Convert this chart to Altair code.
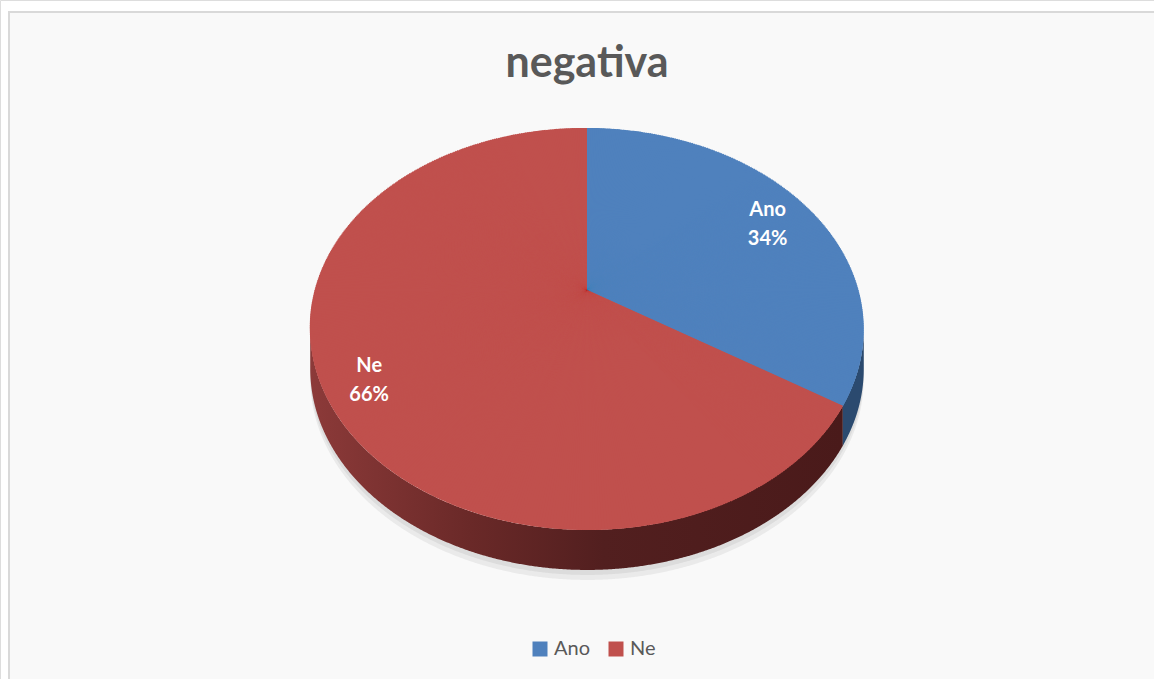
import altair as alt
import pandas as pd

# ---- data ----
categories = ["Ano", "Ne"]
values = [34, 66]
colors = ["#4F81BD", "#C0504D"]
title_text = "negativa"

# ---- styling / geometry of the tilted pie (pixels) ----
FONT = "Lato"
CX, CY = 587, 290          # pie centre (apex of the slices)
A, B, E = 271.5, 193.4, 0.194   # half-width, half-depth, perspective factor
DEPTH = 40                 # thickness of the 3D side wall
N = 720                    # sub-slices per full turn
K = 0.83                   # label radius factor

df = pd.DataFrame({"cat": categories, "value": values})


def px(phi):
    return f"({A}*sin({phi})/(1+{E}*cos({phi})))"


def py(phi):
    return f"(-{B}*cos({phi})/(1+{E}*cos({phi})))"


base = (
    alt.Chart(df)
    .transform_joinaggregate(total="sum(value)")
    .transform_window(cum="sum(value)", frame=[None, 0])
    .transform_calculate(
        f0="(datum.cum - datum.value)/datum.total",
        f1="datum.cum/datum.total",
    )
)

# ---- background frame ----
frame = (
    alt.Chart(pd.DataFrame({"k": [0]}))
    .mark_rect(fill="#f9f9f9", stroke="#d9d9d9", strokeWidth=2)
    .encode(x=alt.value(9), x2=alt.value(1200), y=alt.value(12), y2=alt.value(720))
)

# ---- side wall (visible front part) ----
side_base = (
    base.transform_calculate(
        a=f"max(datum.f0*2*PI, acos(-{E}))",
        b=f"min(datum.f1*2*PI, 2*PI - acos(-{E}))",
    )
    .transform_filter("datum.a < datum.b")
    .transform_calculate(steps="sequence(datum.a, datum.b + 0.004, 0.004)")
    .transform_flatten(["steps"], as_=["pp"])
    .transform_calculate(p="min(datum.pp, datum.b)")
    .transform_calculate(
        sx=f"{CX} + " + px("datum.p"),
        sy=f"{CY} + " + py("datum.p"),
    )
    .transform_calculate(
        sy2=f"datum.sy + {DEPTH}",
        sh1=f"datum.sy + {DEPTH} + 5",
        sh2=f"datum.sy + {DEPTH} + 10",
    )
)

shadow1 = side_base.mark_area(color="#000000", opacity=0.06).encode(
    x=alt.X("sx:Q", scale=None, axis=None),
    y=alt.Y("sy:Q", scale=None, axis=None),
    y2=alt.Y2("sh2"),
)
shadow2 = side_base.mark_area(color="#000000", opacity=0.06).encode(
    x=alt.X("sx:Q", scale=None, axis=None),
    y=alt.Y("sy:Q", scale=None, axis=None),
    y2=alt.Y2("sh1"),
)

red_grad = alt.LinearGradient(
    gradient="linear",
    stops=[
        alt.GradientStop(color="#8c3a39", offset=0),
        alt.GradientStop(color="#6a2928", offset=0.3),
        alt.GradientStop(color="#521f1f", offset=0.55),
        alt.GradientStop(color="#4a1a1a", offset=1),
    ],
    x1=0, x2=1, y1=0, y2=0,
)

side_ne = (
    side_base.transform_filter(f"datum.cat == '{categories[1]}'")
    .mark_area(fill=red_grad)
    .encode(
        x=alt.X("sx:Q", scale=None, axis=None),
        y=alt.Y("sy:Q", scale=None, axis=None),
        y2=alt.Y2("sy2"),
    )
)
side_ano = (
    side_base.transform_filter(f"datum.cat == '{categories[0]}'")
    .mark_area(fill="#2b4a6f")
    .encode(
        x=alt.X("sx:Q", scale=None, axis=None),
        y=alt.Y("sy:Q", scale=None, axis=None),
        y2=alt.Y2("sy2"),
    )
)


def polar_angles(chart, pa, pb):
    """add t0/t1 (screen polar angles) for parametric angles pa..pb"""
    return (
        chart.transform_calculate(
            x0=px(pa), y0=py(pa), x1=px(pb), y1=py(pb),
        )
        .transform_calculate(
            ta="atan2(datum.x0, -datum.y0)",
            tb="atan2(datum.x1, -datum.y1)",
        )
        .transform_calculate(
            t0="datum.ta < 0 ? datum.ta + 2*PI : datum.ta",
            tbw="datum.tb < 0 ? datum.tb + 2*PI : datum.tb",
        )
        .transform_calculate(t1w="datum.tbw < datum.t0 ? datum.tbw + 2*PI : datum.tbw")
    )


color_scale = alt.Scale(domain=categories, range=colors)
legend = alt.Legend(
    title=None,
    orient="none",
    legendX=530,
    legendY=639,
    direction="horizontal",
    symbolType="square",
    symbolSize=225,
    symbolStrokeWidth=0,
    labelFont=FONT,
    labelFontSize=20,
    labelColor="#595959",
    columnPadding=16,
    labelOffset=4,
)

# ---- inner solid core of each slice (fills the centre cleanly) ----
core = polar_angles(base, "2*PI*datum.f0", "2*PI*datum.f1").transform_calculate(
    r=f"{B}/(1+{E})", t1="datum.t1w"
)
core_layer = core.mark_arc(strokeWidth=0).encode(
    theta=alt.Theta("t0:Q", scale=None, stack=False),
    theta2=alt.Theta2("t1"),
    radius=alt.Radius("r:Q", scale=None),
    x=alt.value(CX),
    y=alt.value(CY),
    color=alt.Color("cat:N", scale=color_scale, sort=categories, legend=legend),
)

# ---- top face: many thin arcs following the tilted ellipse ----
top = (
    base.transform_calculate(steps=f"sequence(floor(datum.f0*{N}), ceil(datum.f1*{N}))")
    .transform_flatten(["steps"], as_=["s"])
    .transform_calculate(
        p0=f"2*PI*max(datum.s/{N}, datum.f0)",
        p1=f"2*PI*min((datum.s+1)/{N}, datum.f1)",
    )
    .transform_calculate(
        pm="(datum.p0 + datum.p1)/2",
        last="datum.p1 >= 2*PI*datum.f1 - 1e-9 ? 1 : 0",
    )
)
top = polar_angles(top, "datum.p0", "datum.p1").transform_calculate(
    xm=px("datum.pm"), ym=py("datum.pm"),
).transform_calculate(
    r="sqrt(datum.xm*datum.xm + datum.ym*datum.ym)",
    # overlap neighbouring sub-slices slightly so no seams show
    t1="datum.last == 1 ? datum.t1w : datum.t1w + 0.012",
)

top_face = top.mark_arc(strokeWidth=0).encode(
    theta=alt.Theta("t0:Q", scale=None, stack=False),
    theta2=alt.Theta2("t1"),
    radius=alt.Radius("r:Q", scale=None),
    x=alt.value(CX),
    y=alt.value(CY),
    color=alt.Color("cat:N", scale=color_scale, sort=categories, legend=legend),
)

# ---- labels ----
labels = (
    base.transform_calculate(pm="PI*(datum.f0 + datum.f1)")
    .transform_calculate(
        lx=f"{CX} + {K}*" + px("datum.pm"),
        ly=f"{CY} + {K}*" + py("datum.pm"),
        txt="datum.cat + '\\n' + round(100*datum.value/datum.total) + '%'",
    )
    .mark_text(
        color="white", font=FONT, fontWeight="bold", fontSize=20,
        lineBreak="\n", lineHeight=29, align="center", baseline="middle", dy=-9,
    )
    .encode(
        x=alt.X("lx:Q", scale=None, axis=None),
        y=alt.Y("ly:Q", scale=None, axis=None),
        text="txt:N",
    )
)

# ---- title ----
title = (
    alt.Chart(pd.DataFrame({"t": [title_text]}))
    .mark_text(font=FONT, fontWeight="bold", fontSize=43, color="#595959",
               align="center", baseline="alphabetic")
    .encode(x=alt.value(587), y=alt.value(77), text="t:N")
)

chart = (
    alt.layer(frame, shadow1, shadow2, side_ne, side_ano, core_layer, top_face, labels, title)
    .properties(width=1154, height=679, padding=0, autosize=alt.AutoSizeParams(type="none"))
    .configure_view(stroke=None)
    .configure(background="white")
)

chart.save("out.html", embed_options={"renderer": "svg", "actions": False})
